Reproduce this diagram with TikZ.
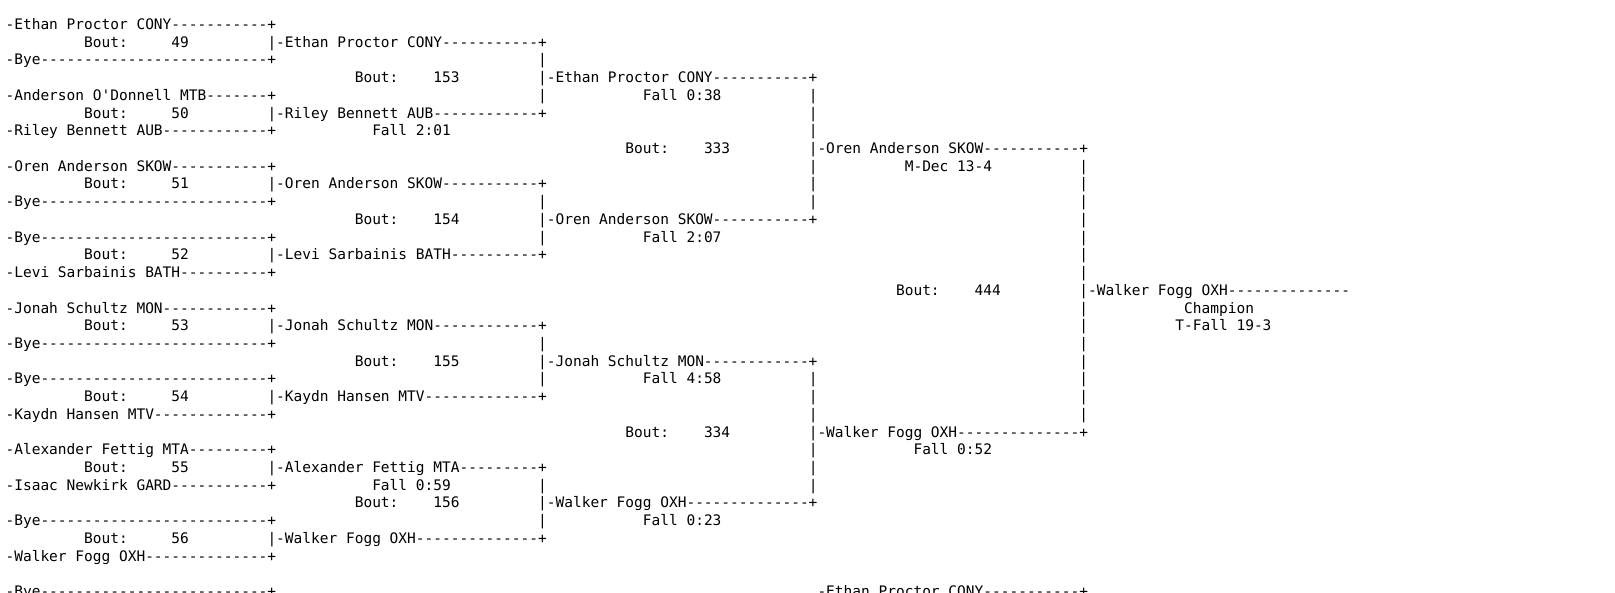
\documentclass[tikz,border=0pt]{standalone}
\usepackage{fontspec}
\newfontfamily\bracketfont{DejaVu Sans Mono}[Ligatures=TeXOff]
\ExplSyntaxOn
\NewDocumentCommand\dashrun{m}{\prg_replicate:nn{#1}{-}}
\ExplSyntaxOff
\tikzset{txt/.style={anchor=base west, inner sep=0pt, outer sep=0pt,
  font=\bracketfont\fontsize{10.875pt}{13pt}\selectfont, text=black}}
% \tx{line}{column}{text}
\newcommand\tx[3]{\node[txt] (t#1-#2) at ({5.6+8.73*#2},{29.5+17.72*#1}) {#3};}
\newcommand\bout[1]{Bout:\ \ \ \ #1}
\newcommand\boutb[1]{Bout:\ \ \ \ \ #1}
\newcommand\ent[2]{#1\dashrun{#2}+}
\begin{document}
\begin{tikzpicture}[x=0.75pt,y=-0.75pt]
\fill[white] (0,0) rectangle (1615,592);
\useasboundingbox (0,0) rectangle (1615,592);
\clip (0,0) rectangle (1615,592);
% line 0
\tx{0}{0}{\ent{-Ethan Proctor CONY}{11}}
% line 1
\tx{1}{9}{\boutb{49}}
\tx{1}{30}{|\ent{-Ethan Proctor CONY}{11}}
% line 2
\tx{2}{0}{\ent{-Bye}{26}}
\tx{2}{61}{|}
% line 3
\tx{3}{40}{\bout{153}}
\tx{3}{61}{|\ent{-Ethan Proctor CONY}{11}}
% line 4
\tx{4}{0}{\ent{-Anderson O'Donnell MTB}{7}}
\tx{4}{61}{|}
\tx{4}{73}{Fall 0:38}
\tx{4}{92}{|}
% line 5
\tx{5}{9}{\boutb{50}}
\tx{5}{30}{|\ent{-Riley Bennett AUB}{12}}
\tx{5}{92}{|}
% line 6
\tx{6}{0}{\ent{-Riley Bennett AUB}{12}}
\tx{6}{42}{Fall 2:01}
\tx{6}{92}{|}
% line 7
\tx{7}{71}{\bout{333}}
\tx{7}{92}{|\ent{-Oren Anderson SKOW}{11}}
% line 8
\tx{8}{0}{\ent{-Oren Anderson SKOW}{11}}
\tx{8}{92}{|}
\tx{8}{103}{M-Dec 13-4}
\tx{8}{123}{|}
% line 9
\tx{9}{9}{\boutb{51}}
\tx{9}{30}{|\ent{-Oren Anderson SKOW}{11}}
\tx{9}{92}{|}
\tx{9}{123}{|}
% line 10
\tx{10}{0}{\ent{-Bye}{26}}
\tx{10}{61}{|}
\tx{10}{92}{|}
\tx{10}{123}{|}
% line 11
\tx{11}{40}{\bout{154}}
\tx{11}{61}{|\ent{-Oren Anderson SKOW}{11}}
\tx{11}{123}{|}
% line 12
\tx{12}{0}{\ent{-Bye}{26}}
\tx{12}{61}{|}
\tx{12}{73}{Fall 2:07}
\tx{12}{123}{|}
% line 13
\tx{13}{9}{\boutb{52}}
\tx{13}{30}{|\ent{-Levi Sarbainis BATH}{10}}
\tx{13}{123}{|}
% line 14
\tx{14}{0}{\ent{-Levi Sarbainis BATH}{10}}
\tx{14}{123}{|}
% line 15
\tx{15}{102}{\bout{444}}
\tx{15}{123}{|-Walker Fogg OXH\dashrun{14}}
% line 16
\tx{16}{0}{\ent{-Jonah Schultz MON}{12}}
\tx{16}{123}{|}
\tx{16}{135}{Champion}
% line 17
\tx{17}{9}{\boutb{53}}
\tx{17}{30}{|\ent{-Jonah Schultz MON}{12}}
\tx{17}{123}{|}
\tx{17}{134}{T-Fall 19-3}
% line 18
\tx{18}{0}{\ent{-Bye}{26}}
\tx{18}{61}{|}
\tx{18}{123}{|}
% line 19
\tx{19}{40}{\bout{155}}
\tx{19}{61}{|\ent{-Jonah Schultz MON}{12}}
\tx{19}{123}{|}
% line 20
\tx{20}{0}{\ent{-Bye}{26}}
\tx{20}{61}{|}
\tx{20}{73}{Fall 4:58}
\tx{20}{92}{|}
\tx{20}{123}{|}
% line 21
\tx{21}{9}{\boutb{54}}
\tx{21}{30}{|\ent{-Kaydn Hansen MTV}{13}}
\tx{21}{92}{|}
\tx{21}{123}{|}
% line 22
\tx{22}{0}{\ent{-Kaydn Hansen MTV}{13}}
\tx{22}{92}{|}
\tx{22}{123}{|}
% line 23
\tx{23}{71}{\bout{334}}
\tx{23}{92}{|\ent{-Walker Fogg OXH}{14}}
% line 24
\tx{24}{0}{\ent{-Alexander Fettig MTA}{9}}
\tx{24}{92}{|}
\tx{24}{104}{Fall 0:52}
% line 25
\tx{25}{9}{\boutb{55}}
\tx{25}{30}{|\ent{-Alexander Fettig MTA}{9}}
\tx{25}{92}{|}
% line 26
\tx{26}{0}{\ent{-Isaac Newkirk GARD}{11}}
\tx{26}{42}{Fall 0:59}
\tx{26}{61}{|}
\tx{26}{92}{|}
% line 27
\tx{27}{40}{\bout{156}}
\tx{27}{61}{|\ent{-Walker Fogg OXH}{14}}
% line 28
\tx{28}{0}{\ent{-Bye}{26}}
\tx{28}{61}{|}
\tx{28}{73}{Fall 0:23}
% line 29
\tx{29}{9}{\boutb{56}}
\tx{29}{30}{|\ent{-Walker Fogg OXH}{14}}
% line 30
\tx{30}{0}{\ent{-Walker Fogg OXH}{14}}
% line 32 (cut by the lower edge, as in the reference)
\tx{32}{0}{\ent{-Bye}{26}}
\tx{32}{93}{\ent{-Ethan Proctor CONY}{11}}
\end{tikzpicture}
\end{document}
